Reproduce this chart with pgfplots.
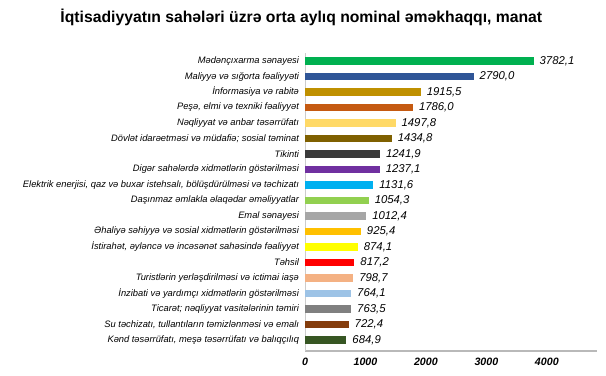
\documentclass[border=0pt]{standalone}
\usepackage{pgfplots}
\pgfplotsset{compat=1.18}
\usepackage{fontspec}
\setmainfont{Liberation Sans}
\definecolor{c1}{HTML}{00B050}
\definecolor{c2}{HTML}{2F5597}
\definecolor{c3}{HTML}{BF9000}
\definecolor{c4}{HTML}{C55A11}
\definecolor{c5}{HTML}{FFD966}
\definecolor{c6}{HTML}{7F6000}
\definecolor{c7}{HTML}{3A3A3A}
\definecolor{c8}{HTML}{7030A0}
\definecolor{c9}{HTML}{00B0F0}
\definecolor{c10}{HTML}{92D050}
\definecolor{c11}{HTML}{A6A6A6}
\definecolor{c12}{HTML}{FFC000}
\definecolor{c13}{HTML}{FFFF00}
\definecolor{c14}{HTML}{FF0000}
\definecolor{c15}{HTML}{F4B183}
\definecolor{c16}{HTML}{9DC3E6}
\definecolor{c17}{HTML}{808080}
\definecolor{c18}{HTML}{843C0C}
\definecolor{c19}{HTML}{375623}
\begin{document}
\begin{tikzpicture}
\useasboundingbox (0pt,0pt) rectangle (454.5pt,281.25pt);
\node[font=\fontsize{11.8}{13}\selectfont\bfseries] at (226pt,268.5pt) {İqtisadiyyatın sahələri üzrə orta aylıq nominal əməkhaqqı, manat};
\begin{axis}[
  at={(228.75pt,18pt)}, anchor=south west,
  scale only axis, width=219pt, height=223.5pt,
  xbar, bar width=5.8pt, bar shift=0pt,
  xmin=0, xmax=4830,
  ymin=-0.52, ymax=18.71, y dir=reverse,
  axis x line*=bottom, axis y line*=left,
  x axis line style={draw=gray!55, line width=1.5pt, -},
  y axis line style={draw=gray!40, line width=0.4pt, -},
  major tick length=0pt,
  xtick={0,1000,2000,3000,4000},
  /pgf/number format/1000 sep={},
  /pgf/number format/assume math mode=true,
  xticklabel style={font=\fontsize{8}{9}\selectfont\bfseries\itshape, yshift=-2pt},
  ytick={0,...,18},
  yticklabels={
    Mədənçıxarma sənayesi,
    Maliyyə və sığorta fəaliyyəti,
    İnformasiya və rabitə,
    {Peşə, elmi və texniki fəaliyyət},
    Nəqliyyat və anbar təsərrüfatı,
    Dövlət idarəetməsi və müdafiə; sosial təminat,
    Tikinti,
    Digər sahələrdə xidmətlərin göstərilməsi,
    {Elektrik enerjisi, qaz və buxar istehsalı, bölüşdürülməsi və təchizatı},
    Daşınmaz əmlakla əlaqədar əməliyyatlar,
    Emal sənayesi,
    Əhaliyə səhiyyə və sosial xidmətlərin göstərilməsi,
    {İstirahət, əyləncə və incəsənət sahəsində fəaliyyət},
    Təhsil,
    Turistlərin yerləşdirilməsi və ictimai iaşə,
    İnzibati və yardımçı xidmətlərin göstərilməsi,
    Ticarət; nəqliyyat vasitələrinin təmiri,
    {Su təchizatı, tullantıların təmizlənməsi və emalı},
    {Kənd təsərrüfatı, meşə təsərrüfatı və balıqçılıq}
  },
  yticklabel style={font=\fontsize{7}{8}\selectfont\itshape, xshift=-1pt},
  nodes near coords={\pgfmathprintnumber[fixed,fixed zerofill,precision=1,use comma,1000 sep={}]{\pgfplotspointmeta}},
  nodes near coords style={font=\fontsize{8.5}{10}\selectfont\itshape, xshift=1pt},
  clip=false,
]
\addplot[fill=c1,draw=none] coordinates {(3782.1,0)};
\addplot[fill=c2,draw=none] coordinates {(2790.0,1)};
\addplot[fill=c3,draw=none] coordinates {(1915.5,2)};
\addplot[fill=c4,draw=none] coordinates {(1786.0,3)};
\addplot[fill=c5,draw=none] coordinates {(1497.8,4)};
\addplot[fill=c6,draw=none] coordinates {(1434.8,5)};
\addplot[fill=c7,draw=none] coordinates {(1241.9,6)};
\addplot[fill=c8,draw=none] coordinates {(1237.1,7)};
\addplot[fill=c9,draw=none] coordinates {(1131.6,8)};
\addplot[fill=c10,draw=none] coordinates {(1054.3,9)};
\addplot[fill=c11,draw=none] coordinates {(1012.4,10)};
\addplot[fill=c12,draw=none] coordinates {(925.4,11)};
\addplot[fill=c13,draw=none] coordinates {(874.1,12)};
\addplot[fill=c14,draw=none] coordinates {(817.2,13)};
\addplot[fill=c15,draw=none] coordinates {(798.7,14)};
\addplot[fill=c16,draw=none] coordinates {(764.1,15)};
\addplot[fill=c17,draw=none] coordinates {(763.5,16)};
\addplot[fill=c18,draw=none] coordinates {(722.4,17)};
\addplot[fill=c19,draw=none] coordinates {(684.9,18)};
\end{axis}
\end{tikzpicture}
\end{document}
